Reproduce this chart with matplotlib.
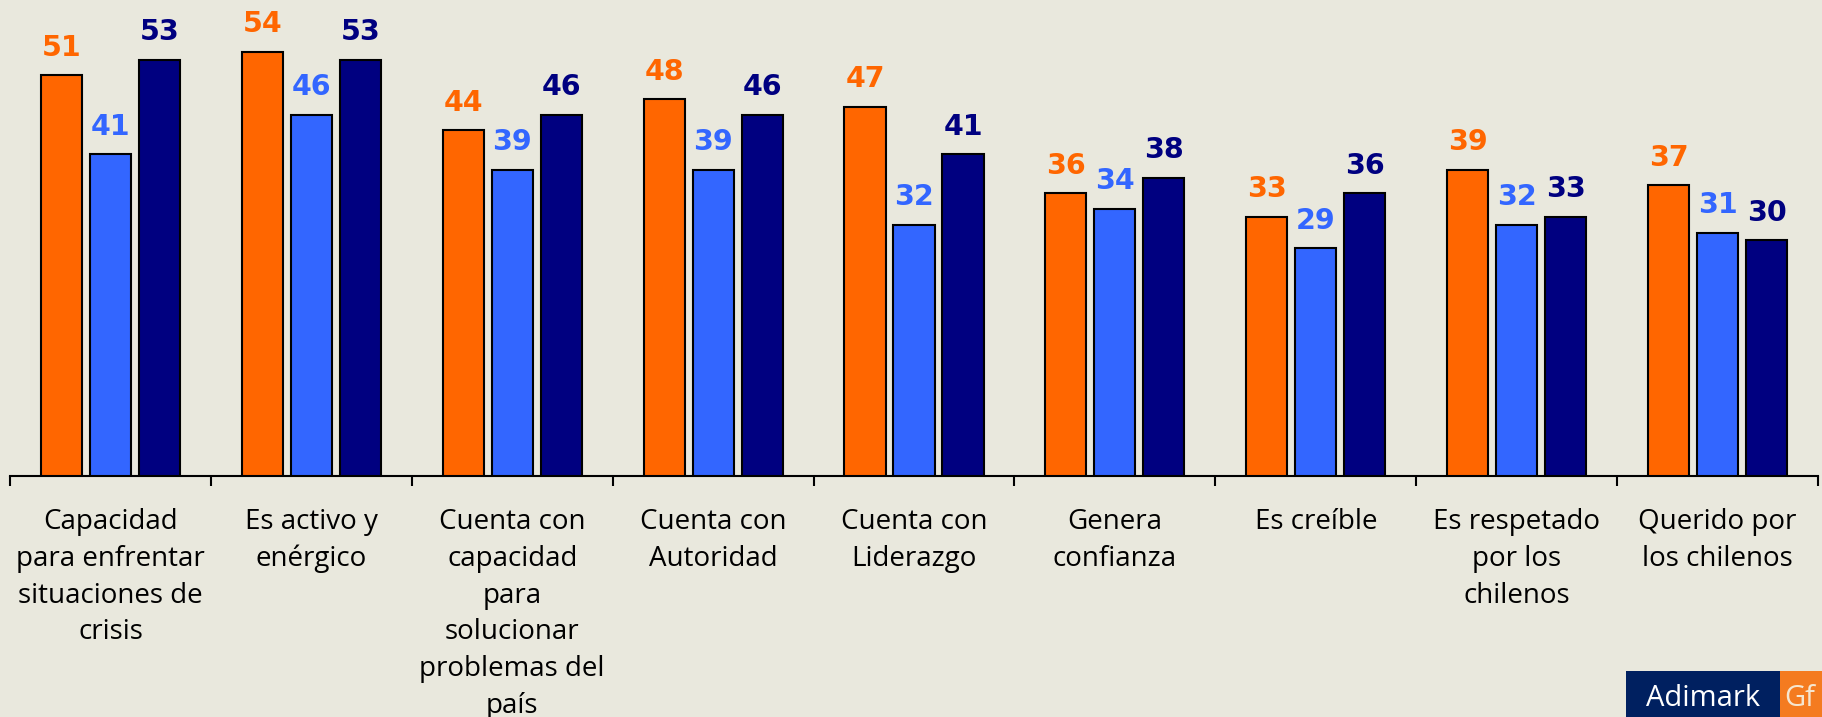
import matplotlib
matplotlib.use('Agg')
import matplotlib.pyplot as plt
import numpy as np
from matplotlib.patches import Rectangle

bg = '#E9E8DD'
col_orange = '#FF6600'
col_light = '#3366FF'
col_dark = '#000080'

categories = [
	'Capacidad\npara enfrentar\nsituaciones de\ncrisis',
	'Es activo y\nenérgico',
	'Cuenta con\ncapacidad\npara\nsolucionar\nproblemas del\npaís',
	'Cuenta con\nAutoridad',
	'Cuenta con\nLiderazgo',
	'Genera\nconfianza',
	'Es creíble',
	'Es respetado\npor los\nchilenos',
	'Querido por\nlos chilenos',
]
serie_naranja = [51, 54, 44, 48, 47, 36, 33, 39, 37]
serie_celeste = [41, 46, 39, 39, 32, 34, 29, 32, 31]
serie_azul = [53, 53, 46, 46, 41, 38, 36, 33, 30]

fig = plt.figure(figsize=(18.22, 7.17), dpi=100)
fig.patch.set_facecolor(bg)
ax = fig.add_axes([10/1822., 1-476/717., 1808/1822., 476/717.])
ax.set_facecolor(bg)

x = np.arange(len(categories))
step = 0.244
width = 0.205
series = [(serie_naranja, col_orange), (serie_celeste, col_light), (serie_azul, col_dark)]
for i, (vals, c) in enumerate(series):
	pos = x + (i - 1) * step
	ax.bar(pos, vals, width, color=c, edgecolor='black', linewidth=1.5, zorder=3)
	for px, v in zip(pos, vals):
		ax.annotate(str(v), (px, v), xytext=(0, 14), textcoords='offset points',
			ha='center', va='baseline', fontsize=20.5, fontweight='bold', color=c,
			family='DejaVu Sans')

ax.set_xlim(-0.5, len(categories) - 0.5)
ax.set_ylim(0, 60.6)

for s in ['top', 'right', 'left']:
	ax.spines[s].set_visible(False)
ax.spines['bottom'].set_linewidth(1.5)
ax.set_yticks([])

ax.set_xticks(np.arange(-0.5, len(categories)), minor=False)
ax.set_xticklabels([])
ax.tick_params(axis='x', which='major', direction='out', length=7, width=1.5)
ax.set_xticks(x, minor=True)
ax.set_xticklabels(categories, minor=True, fontsize=20, family='Open Sans',
	linespacing=1.42, va='top')
ax.tick_params(axis='x', which='minor', length=0, pad=23)

# logo
fig.patches.append(Rectangle((1626/1822., 0), 154/1822., 46/717., transform=fig.transFigure,
	facecolor='#002060', edgecolor='none'))
fig.patches.append(Rectangle((1780/1822., 0), 42/1822., 46/717., transform=fig.transFigure,
	facecolor='#F47B20', edgecolor='none'))
fig.text(1703/1822., 4/717., 'Adimark', color='white', fontsize=21, family='Open Sans',
	ha='center', va='bottom')
fig.text(1784/1822., 4/717., 'Gf', color='#F5E6D0', fontsize=21, family='Open Sans',
	ha='left', va='bottom')

fig.savefig('out.png', dpi=100, facecolor=bg)
